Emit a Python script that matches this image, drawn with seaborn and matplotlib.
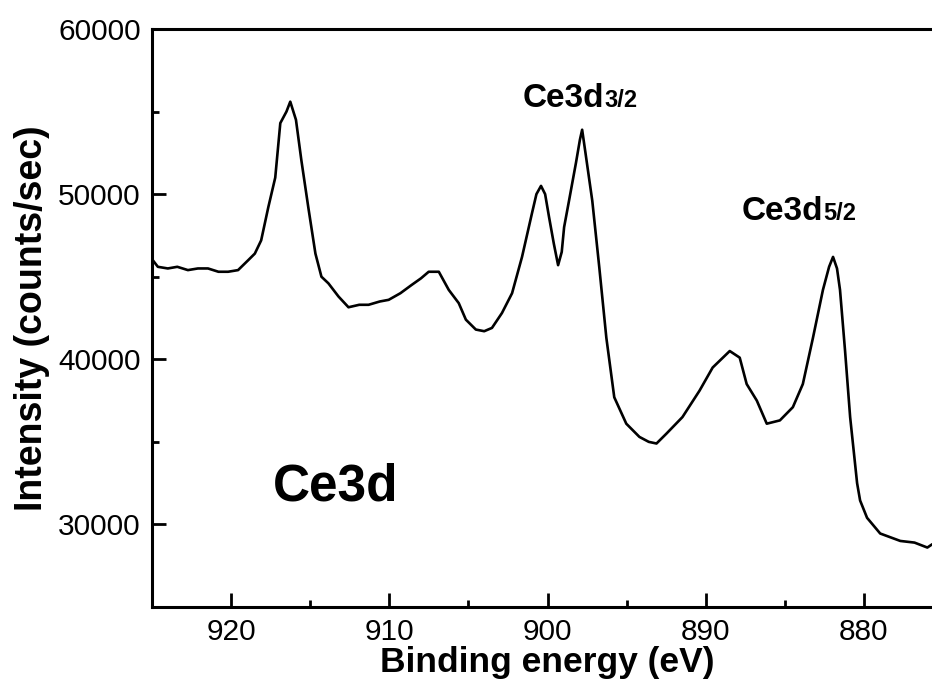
import matplotlib
matplotlib.use("Agg")
import matplotlib.pyplot as plt
import seaborn as sns
import pandas as pd
from matplotlib.ticker import MultipleLocator

# Binding energy (eV) and intensity (counts/sec)
energy = [925.1, 924.95, 924.63, 924.0, 923.4, 922.73, 922.1, 921.46, 920.8, 920.19,
          919.56, 918.92, 918.5, 918.10, 917.65, 917.21, 916.89, 916.5, 916.26, 915.9,
          915.56, 915.12, 914.67, 914.29, 913.85, 913.21, 912.58, 911.9, 911.31, 910.6,
          910.04, 909.3, 908.59, 908.0, 907.51, 906.87, 906.24, 905.61, 905.16, 904.53,
          904.0, 903.51, 902.88, 902.24, 901.61, 900.98, 900.7, 900.41, 900.15, 899.90,
          899.6, 899.33, 899.1, 898.95, 898.64, 898.2, 897.95, 897.81, 897.6, 897.17,
          896.73, 896.28, 895.78, 895.02, 894.19, 893.6, 893.11, 892.48, 891.47, 890.39,
          889.56, 888.48, 887.85, 887.41, 886.77, 886.14, 885.31, 884.49, 883.86, 883.22,
          882.59, 882.2, 881.95, 881.7, 881.51, 881.19, 880.87, 880.43, 880.24, 879.80,
          878.97, 877.70, 876.8, 875.99, 875.68]
intensity = [46300, 46000, 45600, 45500, 45600, 45400, 45500, 45500, 45300, 45300,
             45400, 46000, 46400, 47200, 49200, 51000, 54300, 55000, 55600, 54500,
             52060, 49200, 46400, 45000, 44600, 43800, 43150, 43300, 43300, 43500,
             43600, 44000, 44500, 44900, 45300, 45300, 44200, 43400, 42400, 41800,
             41700, 41900, 42800, 44000, 46200, 48850, 50000, 50500, 50000, 48600,
             47000, 45700, 46500, 48000, 49600, 51900, 53300, 53900, 52500, 49600,
             45600, 41300, 37700, 36100, 35300, 35000, 34900, 35500, 36500, 38100,
             39500, 40500, 40100, 38500, 37500, 36100, 36300, 37100, 38500, 41300,
             44200, 45600, 46200, 45500, 44200, 40500, 36500, 32500, 31450, 30400,
             29450, 29000, 28900, 28600, 28800]

x_ticks = [920, 910, 900, 890, 880]
y_ticks = [30000, 40000, 50000, 60000]

sns.set_style("ticks")
plt.rcParams['font.family'] = ['Liberation Sans', 'DejaVu Sans']
plt.rcParams['text.color'] = 'black'
plt.rcParams['axes.labelcolor'] = 'black'
plt.rcParams['xtick.color'] = 'black'
plt.rcParams['ytick.color'] = 'black'
plt.rcParams['axes.edgecolor'] = 'black'

fig = plt.figure(figsize=(9.32, 6.91), dpi=100)
ax = fig.add_axes([152/932, 1-607/691, (943-152)/932, (607-29)/691])

df = pd.DataFrame({"energy": energy, "intensity": intensity})
sns.lineplot(data=df, x="energy", y="intensity", ax=ax, color="black",
             linewidth=1.9, sort=False)

ax.set_xlim(925, 875)
ax.set_ylim(25000, 60000)
ax.set_xticks(x_ticks)
ax.set_yticks(y_ticks)
ax.xaxis.set_minor_locator(MultipleLocator(5))
ax.yaxis.set_minor_locator(MultipleLocator(5000))
ax.tick_params(which='major', direction='in', length=10, width=2, labelsize=21.5, pad=8)
ax.tick_params(which='minor', direction='in', length=5, width=2)
ax.tick_params(top=False, right=False, which='both')
for s in ax.spines.values():
    s.set_linewidth(2.2)
    s.set_visible(True)
    s.set_color('black')

ax.set_xlabel("Binding energy (eV)", fontsize=25.5, fontweight='bold', labelpad=0)
ax.set_ylabel("Intensity (counts/sec)", fontsize=27, fontweight='bold', labelpad=6)

ax.text(917.34, 31460, "Ce3d", fontsize=37, fontweight='bold', ha='left', va='baseline')
ax.text(896.41, 55270, "Ce3d", fontsize=24, fontweight='bold', ha='right', va='baseline')
ax.text(896.41, 55270, "3/2", fontsize=17, fontweight='bold', ha='left', va='baseline')
ax.text(882.59, 48425, "Ce3d", fontsize=24, fontweight='bold', ha='right', va='baseline')
ax.text(882.59, 48425, "5/2", fontsize=17, fontweight='bold', ha='left', va='baseline')

fig.savefig("out.png", dpi=100)
